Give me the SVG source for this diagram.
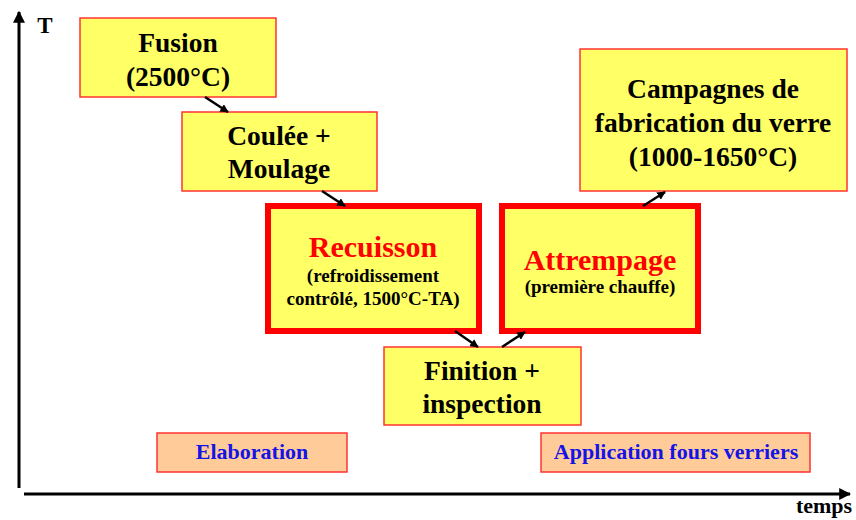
<svg xmlns="http://www.w3.org/2000/svg" width="856" height="520" viewBox="0 0 856 520">
<defs>
<marker id="ah" viewBox="0 0 10 10" refX="9" refY="5" markerWidth="3.4" markerHeight="3.4" orient="auto" markerUnits="strokeWidth">
<path d="M0,0 L10,5 L0,10 z" fill="#000"/>
</marker>
<marker id="axh" viewBox="0 0 10 10" refX="9" refY="5" markerWidth="4" markerHeight="4" orient="auto" markerUnits="strokeWidth">
<path d="M0,0 L10,5 L0,10 z" fill="#000"/>
</marker>
</defs>
<style>
.box{fill:#FFFF66;stroke:#FF3333;stroke-width:1.5}
.thick{fill:#FFFF66;stroke:#FF0000;stroke-width:6}
.lab{fill:#FFCC99;stroke:#FF3333;stroke-width:1.5}
text{font-family:"Liberation Serif","Times New Roman",serif;font-weight:bold;text-anchor:middle}
.big{font-size:27.5px;fill:#000}
.red{font-size:30px;fill:#FF0000}
.sm{font-size:19px;fill:#000}
.blue{font-size:22px;fill:#1414E6}
.conn{stroke:#000;stroke-width:2.5;fill:none;marker-end:url(#ah)}
.axis{stroke:#000;stroke-width:3;fill:none;marker-end:url(#axh)}
</style>
<rect width="856" height="520" fill="#fff"/>
<g id="axes">
<line class="axis" x1="19" y1="488" x2="19" y2="12"/>
<line class="axis" x1="24" y1="494" x2="850" y2="494"/>
<text x="45" y="33" style="font-size:23px">T</text>
<text x="824" y="513" style="font-size:22px">temps</text>
</g>
<g id="fusion">
<rect class="box" x="80" y="18" width="196" height="79"/>
<text class="big" x="178" y="52">Fusion</text>
<text class="big" x="178" y="86">(2500°C)</text>
</g>
<g id="coulee">
<rect class="box" x="182" y="112" width="195" height="79"/>
<text class="big" x="279" y="145">Coulée +</text>
<text class="big" x="279" y="178">Moulage</text>
</g>
<g id="recuisson">
<rect class="thick" x="268" y="206" width="211" height="125"/>
<text class="red" x="373" y="257">Recuisson</text>
<text class="sm" x="373" y="282">(refroidissement</text>
<text class="sm" x="373" y="305">contrôlé, 1500°C-TA)</text>
</g>
<g id="attrempage">
<rect class="thick" x="502" y="206" width="196" height="125"/>
<text class="red" x="600" y="270">Attrempage</text>
<text class="sm" x="600" y="293">(première chauffe)</text>
</g>
<g id="finition">
<rect class="box" x="384" y="347" width="197" height="78"/>
<text class="big" x="482" y="380">Finition +</text>
<text class="big" x="482" y="413">inspection</text>
</g>
<g id="campagnes">
<rect class="box" x="580" y="49" width="267" height="142"/>
<text class="big" x="713" y="98">Campagnes de</text>
<text class="big" x="713" y="132">fabrication du verre</text>
<text class="big" x="713" y="166">(1000-1650°C)</text>
</g>
<g id="elaboration">
<rect class="lab" x="157" y="433" width="190" height="39"/>
<text class="blue" x="252" y="459">Elaboration</text>
</g>
<g id="application">
<rect class="lab" x="541" y="433" width="269" height="39"/>
<text class="blue" x="676" y="459">Application fours verriers</text>
</g>
<g id="connectors">
<line class="conn" x1="205" y1="97" x2="228" y2="112"/>
<line class="conn" x1="322" y1="191" x2="345" y2="206"/>
<line class="conn" x1="455" y1="331" x2="478" y2="347"/>
<line class="conn" x1="502" y1="347" x2="525" y2="332"/>
<line class="conn" x1="643" y1="206" x2="665" y2="192"/>
</g>
</svg>
